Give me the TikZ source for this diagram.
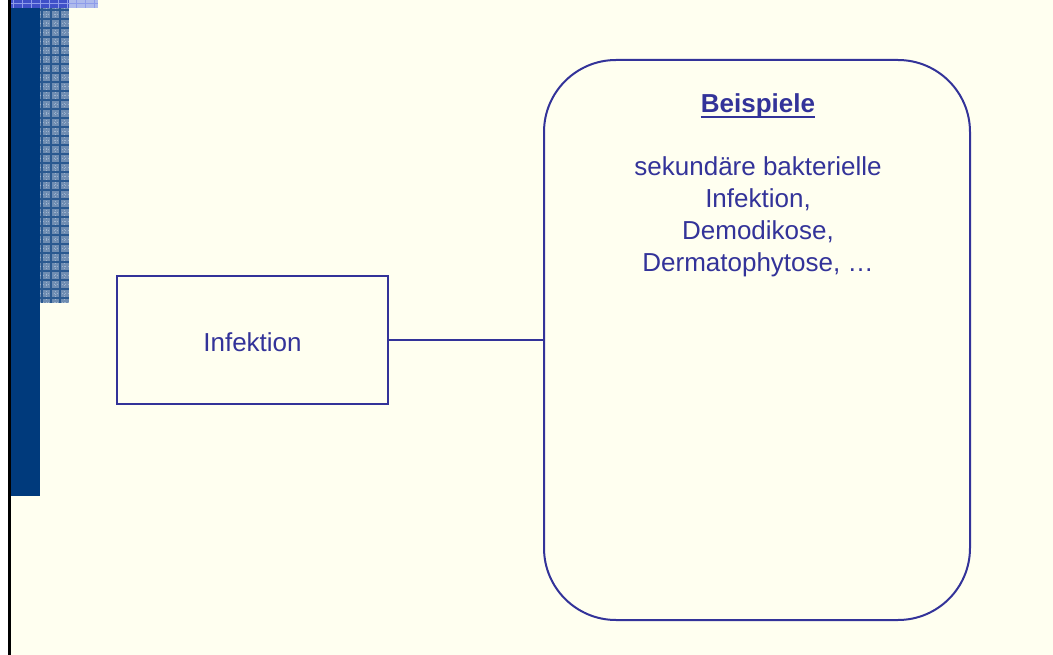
\documentclass[tikz,border=0pt]{standalone}
\usepackage{fontspec}
\setmainfont{Liberation Sans}
\definecolor{paper}{HTML}{FFFFF0}
\definecolor{ink}{HTML}{333399}
\definecolor{navy}{HTML}{003A7C}
\definecolor{checkbase}{HTML}{6F8DB2}
\definecolor{checkline}{HTML}{2A5990}
\definecolor{checkdot}{HTML}{9DB3CE}
\definecolor{topbase}{HTML}{3F50C8}
\definecolor{topline}{HTML}{8E9CEA}
\definecolor{toplight}{HTML}{AEBAEC}
\tikzset{
  frame/.style={draw=ink, line width=2pt},
  label/.style={text=ink, font=\fontsize{26}{32}\selectfont, inner sep=0pt},
}
\begin{document}
\begin{tikzpicture}[x=1pt,y=-1pt]
  % page
  \fill[paper] (0,0) rectangle (1053,655);
  \useasboundingbox (0,0) rectangle (1053,655);
  \fill[white] (0,0) rectangle (8,655);
  \fill[black] (8,0) rectangle (11,655);
  % left band
  \fill[navy] (11,0) rectangle (40,496);
  % checked strip beside the band
  \fill[checkbase] (40,8) rectangle (69,303);
  \begin{scope}
    \clip (40,8) rectangle (69,303);
    \foreach \y in {14.5,23.5,...,305} \draw[checkdot, line width=0.8pt, dotted] (40,\y) -- (69,\y);
    \foreach \x in {46.5,55.5,64.5} \draw[checkdot, line width=0.8pt, dotted] (\x,8) -- (\x,303);
    \foreach \y in {10,19,...,305} \draw[checkline, line width=1.4pt] (40,\y) -- (69,\y);
    \foreach \x in {42,51,60} \draw[checkline, line width=1.4pt] (\x,8) -- (\x,303);
  \end{scope}
  % checked strip along the top edge
  \fill[topbase] (11,0) rectangle (69,8);
  \fill[toplight] (69,0) rectangle (98,8);
  \begin{scope}
    \clip (11,0) rectangle (98,8);
    \foreach \x in {13,22,...,98} \draw[topline, line width=1pt] (\x,0) -- (\x,8);
    \draw[topline, line width=1pt] (11,4) -- (98,4);
  \end{scope}

  % boxes
  \node[frame, minimum width=271pt, minimum height=128pt, inner sep=0pt] (inf) at (252.5,340) {};
  \node[label, anchor=base] (inftext) at (252.5,351) {Infektion};
  \node[frame, rounded corners=72pt, minimum width=426pt, minimum height=560pt, inner sep=0pt] (ex) at (757,340) {};
  \draw[frame] (inf.east) -- (ex.west);

  % examples
  \node[label, anchor=base, font=\fontsize{26}{32}\selectfont\bfseries] (title) at (758,113) {Beispiele};
  \draw[ink, line width=2pt] ([yshift=-4pt]title.base west) -- ([yshift=-4pt]title.base east);
  \node[label, anchor=north, align=center] (list) at (758,156)
    {sekundäre bakterielle\\Infektion,\\Demodikose,\\Dermatophytose, …};
\end{tikzpicture}
\end{document}
